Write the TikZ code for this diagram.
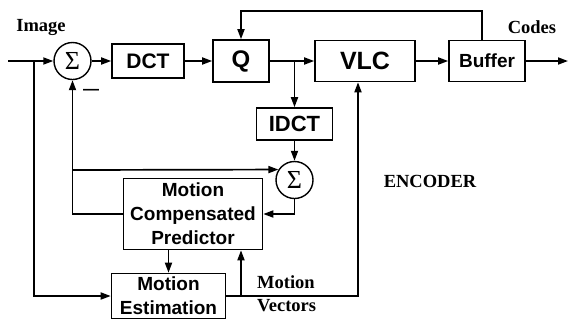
\documentclass[tikz,border=0pt]{standalone}
\usepackage{fontspec}
\setmainfont{Liberation Serif}
\setsansfont{Liberation Sans}
\usetikzlibrary{arrows.meta}

\begin{document}
\begin{tikzpicture}[
    x=1pt, y=-1pt,
    block/.style={
      rectangle, draw=black, line width=1.6pt, fill=white,
      align=center, inner sep=0pt,
      font=\sffamily\bfseries\fontsize{#1}{24}\selectfont
    },
    summer/.style={
      circle, draw=black, line width=1.4pt, minimum size=37pt,
      inner sep=0pt, font=\fontsize{26}{26}\selectfont
    },
    lbl/.style={font=\bfseries\fontsize{18.5}{23}\selectfont, inner sep=0pt},
    link/.style={line width=1.7pt, -{Triangle[length=10pt,width=7pt]}},
    wire/.style={line width=1.7pt}
  ]
    \useasboundingbox (0,0) rectangle (572,322);

    \node[summer] (sum1) at (72.5,61) {Σ};
    \node[block=21, minimum width=72pt, minimum height=34pt] (dct) at (148,61) {DCT};
    \node[block=24, minimum width=56pt, minimum height=42pt] (q)   at (241,61) {Q};
    \node[block=25, minimum width=100pt, minimum height=41pt] (vlc) at (365,61) {VLC};
    \node[block=19, minimum width=76pt, minimum height=41pt] (buf) at (487,61) {Buffer};

    \node[block=22, minimum width=76pt, minimum height=32pt] (idct) at (294.5,124) {IDCT};
    \node[summer] (sum2) at (294.5,180) {Σ};

    \node[block=19, minimum width=139pt, minimum height=71pt] (mcp) at (193,214)
      {Motion\\Compensated\\Predictor};
    \node[block=19, minimum width=114pt, minimum height=45pt] (me) at (168.5,296)
      {Motion\\Estimation};

    \node[lbl] (image) at (41,27) {Image};
    \node[lbl] (codes) at (532,27) {Codes};
    \node[lbl] (enc)   at (430,181) {ENCODER};
    \node[lbl, align=left, anchor=west] (mvec) at (257,294) {Motion\\Vectors};
    \node[inner sep=0pt, font=\sffamily\bfseries\fontsize{16}{16}\selectfont] (minus) at (91,92) {—};

    \coordinate (in)      at (8,61);
    \coordinate (split)   at (34,61);
    \coordinate (out)     at (568,61);
    \coordinate (qsplit)  at (294.5,61);
    \coordinate (fbk)     at (482,11);
    \coordinate (tap)     at (72.5,170);
    \coordinate (mvsplit) at (241,296);
    \coordinate (mvend)   at (358,296);

    % forward path
    \draw[link] (in) -- (sum1);
    \draw[link] (sum1) -- (dct);
    \draw[link] (dct) -- (q);
    \draw[link] (q) -- (vlc);
    \draw[link] (vlc) -- (buf);
    \draw[link] (buf) -- (out);

    % buffer control
    \draw[link] (buf.north -| fbk) -- (fbk) -| (q.north);

    % reconstruction loop
    \draw[link] (qsplit) -- (idct);
    \draw[link] (idct) -- (sum2);
    \draw[link] (sum2.south) |- (mcp.east);
    \draw[link] (mcp.west) -| (sum1.south);
    \draw[link] (tap) -- (sum2.147);

    % motion estimation
    \draw[link] (split) |- (me.west);
    \draw[link] (mcp.south -| me.north) -- (me.north);
    \draw[link] (me.east) -- (mvend) -- (mvend |- vlc.south);
    \draw[link] (mvsplit) -- (mvsplit |- mcp.south);
  \end{tikzpicture}
\end{document}
